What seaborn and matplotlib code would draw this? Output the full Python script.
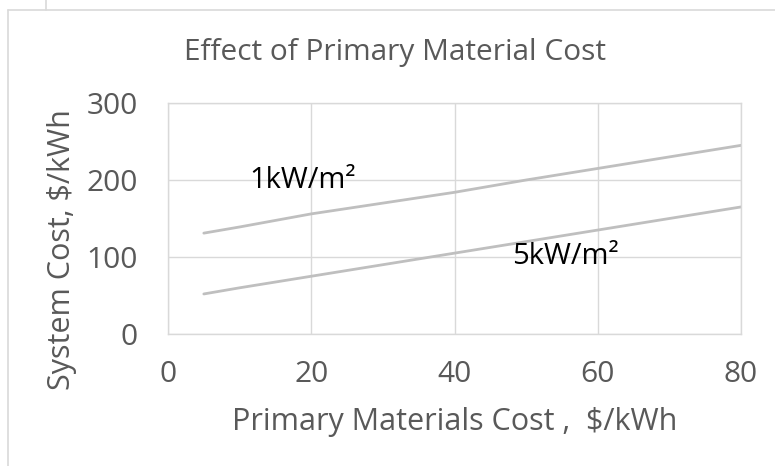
import matplotlib
matplotlib.use("Agg")
import matplotlib.pyplot as plt
import seaborn as sns
import pandas as pd

# ── Data ──────────────────────────────────────────────────────────────────────
material_cost = [5, 10, 20, 30, 40, 50, 60, 70, 80]
cost_1kw = [131, 139, 156, 170, 184, 200, 215, 230, 245]
cost_5kw = [52, 60, 75, 90, 105, 120, 135, 150, 165]
x_ticks = [0, 20, 40, 60, 80]
y_ticks = [0, 100, 200, 300]

TEXT = "#595959"
GRID = "#d9d9d9"
LINE = "#bfbfbf"

sns.set_theme(style="white")
plt.rcParams["font.family"] = ["Open Sans", "DejaVu Sans"]

df = pd.DataFrame({
    "cost": material_cost * 2,
    "system": cost_1kw + cost_5kw,
    "irr": ["1kW"] * len(cost_1kw) + ["5kW"] * len(cost_5kw),
})

fig = plt.figure(figsize=(7.75, 4.66), dpi=100)
ax = fig.add_axes([168 / 775, 1 - 334 / 466, (741 - 168) / 775, (334 - 103) / 466])

sns.lineplot(data=df, x="cost", y="system", units="irr", estimator=None,
             color=LINE, linewidth=2, ax=ax, legend=False)

ax.set_xlim(0, 80)
ax.set_ylim(0, 300)
ax.set_xticks(x_ticks)
ax.set_yticks(y_ticks)
ax.grid(True, color=GRID, linewidth=1)
for spine in ax.spines.values():
    spine.set_edgecolor(GRID)
    spine.set_linewidth(1)
ax.tick_params(colors=TEXT, labelsize=21.5, length=0)
ax.tick_params(axis="y", pad=22)
ax.tick_params(axis="x", pad=19)
ax.set_xlabel("Primary Materials Cost ,  $/kWh", fontsize=22, color=TEXT, labelpad=13)
ax.set_ylabel("System Cost, $/kWh", fontsize=22, color=TEXT)
ax.yaxis.set_label_coords(-0.159, 0.364)

ax.text(11.3, 200, "1kW/m²", fontsize=21, color="black", va="center")
ax.text(48, 100, "5kW/m²", fontsize=21, color="black", va="center")

fig.text(395 / 775, 1 - 60 / 466, "Effect of Primary Material Cost",
         fontsize=21.5, color=TEXT, ha="center", va="baseline")

# outer chart frame
fig.add_artist(plt.Line2D([8 / 775, 1], [1 - 10 / 466] * 2, color=GRID, lw=1.2))
fig.add_artist(plt.Line2D([8 / 775] * 2, [0, 1 - 10 / 466], color=GRID, lw=1.2))
fig.add_artist(plt.Line2D([46 / 775] * 2, [1 - 10 / 466, 1], color=GRID, lw=1.2))

fig.savefig("out.png", dpi=100, facecolor="white")
